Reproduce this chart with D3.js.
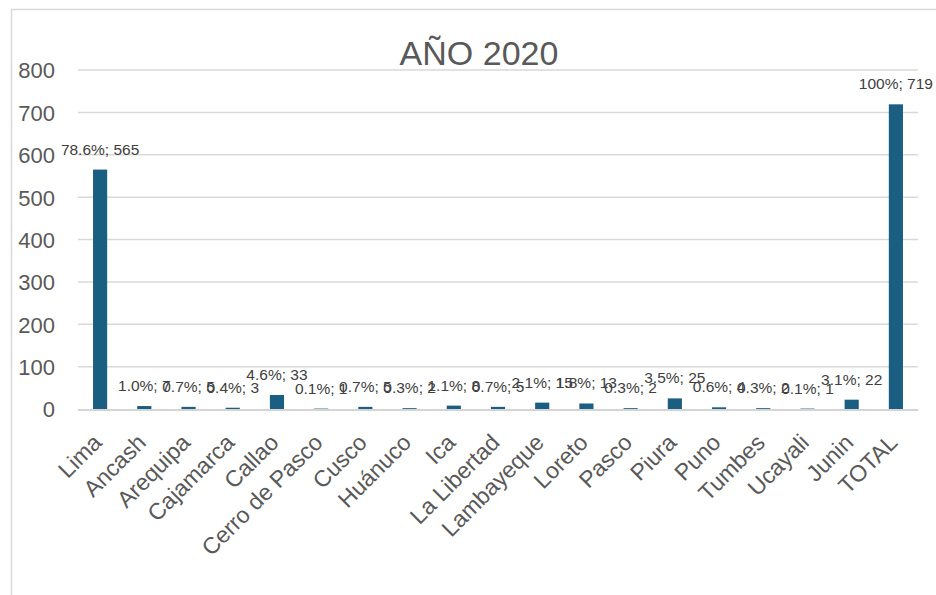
<!DOCTYPE html>
<html>
<head>
<meta charset="utf-8">
<script src="https://cdn.jsdelivr.net/npm/d3@7"></script>
<style>
  html, body { margin: 0; padding: 0; background: #fff; }
  svg { display: block; }
  text { font-family: "Liberation Sans", Arial, sans-serif; }
</style>
</head>
<body>
<svg id="chart" width="936" height="595"></svg>
<script>
// Casos por región, año 2020
const regions = ["Lima", "Ancash", "Arequipa", "Cajamarca", "Callao", "Cerro de Pasco", "Cusco",
  "Huánuco", "Ica", "La Libertad", "Lambayeque", "Loreto", "Pasco", "Piura", "Puno",
  "Tumbes", "Ucayali", "Junin", "TOTAL"];
const counts = [565, 7, 5, 3, 33, 1, 5, 2, 8, 5, 15, 13, 2, 25, 4, 2, 1, 22, 719];
const shares = ["78.6%", "1.0%", "0.7%", "0.4%", "4.6%", "0.1%", "0.7%", "0.3%", "1.1%", "0.7%",
  "2.1%", "1.8%", "0.3%", "3.5%", "0.6%", "0.3%", "0.1%", "3.1%", "100%"];
const yTicks = [0, 100, 200, 300, 400, 500, 600, 700, 800];
const chartTitle = "AÑO 2020";

const svg = d3.select("#chart");
const W = 936, H = 595;
const plot = { left: 78, right: 918, top: 70, bottom: 409 };

// outer chart frame (only top and left edges fall inside the view)
svg.append("path")
  .attr("d", `M11.5,${H} V9.5 H${W}`)
  .attr("fill", "none")
  .attr("stroke", "#d9d9d9")
  .attr("stroke-width", 1.5);

const x = d3.scaleBand()
  .domain(regions)
  .range([plot.left, plot.right])
  .paddingInner(0.68)
  .paddingOuter(0.34);

const y = d3.scaleLinear()
  .domain([0, 800])
  .range([plot.bottom, plot.top]);

// horizontal gridlines
svg.append("g")
  .selectAll("line")
  .data(yTicks.filter(t => t > 0))
  .join("line")
  .attr("x1", plot.left).attr("x2", plot.right)
  .attr("y1", d => y(d)).attr("y2", d => y(d))
  .attr("stroke", "#d9d9d9")
  .attr("stroke-width", 1.5);

// y axis labels
const yAxis = d3.axisLeft(y).tickValues(yTicks).tickSize(0).tickPadding(0);
const yg = svg.append("g")
  .attr("transform", `translate(55,0)`)
  .call(yAxis);
yg.select(".domain").remove();
yg.selectAll("text")
  .attr("fill", "#595959")
  .style("font-size", "22px")
  .attr("dy", "0.36em");

// bars
svg.append("g")
  .selectAll("rect")
  .data(regions)
  .join("rect")
  .attr("x", (d) => x(d))
  .attr("width", x.bandwidth())
  .attr("y", (d, i) => y(counts[i]))
  .attr("height", (d, i) => y(0) - y(counts[i]))
  .attr("fill", "#1a5e82");

// baseline
svg.append("line")
  .attr("x1", plot.left).attr("x2", plot.right)
  .attr("y1", y(0) + 1).attr("y2", y(0) + 1)
  .attr("stroke", "#d4d4d4")
  .attr("stroke-width", 2);

// value labels
svg.append("g")
  .selectAll("text")
  .data(regions)
  .join("text")
  .attr("x", d => x(d) + x.bandwidth() / 2)
  .attr("y", (d, i) => y(counts[i]) - 15)
  .attr("text-anchor", "middle")
  .attr("fill", "#404040")
  .style("font-size", "15.5px")
  .text((d, i) => `${shares[i]}; ${counts[i]}`);

// category labels, rotated
const xAxis = d3.axisBottom(x).tickSize(0).tickPadding(0);
const xg = svg.append("g")
  .attr("transform", `translate(0,${plot.bottom})`)
  .call(xAxis);
xg.select(".domain").remove();
xg.selectAll("text")
  .attr("fill", "#595959")
  .style("font-size", "23px")
  .attr("text-anchor", "end")
  .attr("dy", null)
  .attr("y", 0)
  .attr("transform", "translate(3,35) rotate(-45)");

// title
svg.append("text")
  .attr("x", 479)
  .attr("y", 65)
  .attr("text-anchor", "middle")
  .attr("fill", "#595959")
  .style("font-size", "34px")
  .text(chartTitle);
</script>
</body>
</html>
